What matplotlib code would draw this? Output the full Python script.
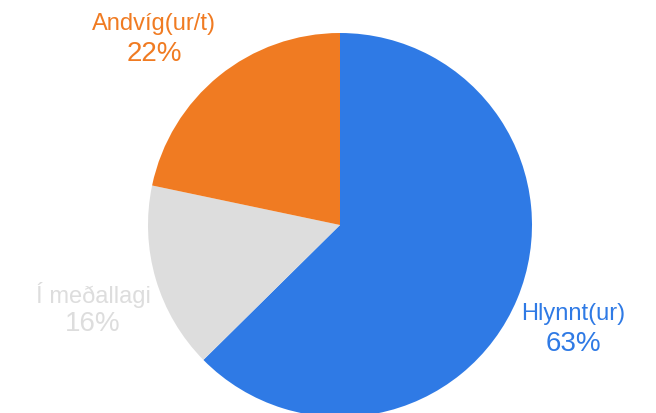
import matplotlib
matplotlib.use('Agg')
import matplotlib.pyplot as plt

# slices, clockwise from 12 o'clock
labels = ['Hlynnt(ur)', 'Í meðallagi', 'Andvíg(ur/t)']
values = [62.6, 15.7, 21.7]
colors = ['#2F7AE5', '#DDDDDD', '#F07B22']

plt.rcParams['font.family'] = ['Liberation Sans', 'DejaVu Sans']

W, H = 656, 414
fig = plt.figure(figsize=(W / 100, H / 100), dpi=100)

# pie centre (340, 226) px, radius 192 px
cx, cy, r = 340, 226, 192
ax = fig.add_axes([(cx - r) / W, (H - cy - r) / H, 2 * r / W, 2 * r / H])
ax.pie(values, colors=colors, startangle=90, counterclock=False, radius=1,
       wedgeprops=dict(linewidth=0))
ax.set_xlim(-1, 1)
ax.set_ylim(-1, 1)
ax.set_aspect('equal')
ax.axis('off')

total = sum(values)
# label positions in pixels: (x, y of name, y of percent)
label_pos = [(573, 314, 344), (93, 295, 324), (154, 24, 54)]
for lab, v, c, (x, y1, y2) in zip(labels, values, colors, label_pos):
    fig.text(x / W, 1 - y1 / H, lab, color=c, fontsize=17,
             ha='center', va='center')
    fig.text(x / W, 1 - y2 / H, '%d%%' % round(v / total * 100), color=c,
             fontsize=20, ha='center', va='center')

fig.savefig('out.png', dpi=100)
